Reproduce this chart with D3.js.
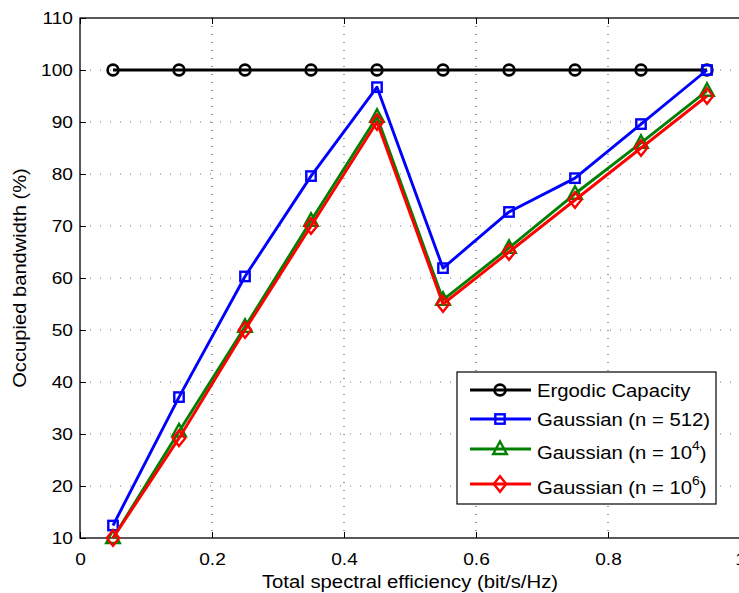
<!DOCTYPE html>
<html>
<head>
<meta charset="utf-8">
<script src="https://cdn.jsdelivr.net/npm/d3@7"></script>
<style>
  body { margin: 0; background: #fff; }
  svg { display: block; font-family: "Liberation Sans", Arial, sans-serif; }
</style>
</head>
<body>
<svg id="chart" width="739" height="593"></svg>
<script>
// Total spectral efficiency (bit/s/Hz)
const efficiency = [0.05, 0.15, 0.25, 0.35, 0.45, 0.55, 0.65, 0.75, 0.85, 0.95];
// Occupied bandwidth (%) per scheme
const ergodic   = [100, 100, 100, 100, 100, 100, 100, 100, 100, 100];
const gauss512  = [12.4, 37.1, 60.3, 79.6, 96.7, 61.9, 72.7, 79.2, 89.6, 100];
const gauss1e4  = [10, 30.5, 50.6, 71, 91, 55.8, 65.8, 76.2, 86, 96];
const gauss1e6  = [10, 29.2, 50, 70, 90, 55, 65, 75, 85, 95];
const xTicks = [0, 0.2, 0.4, 0.6, 0.8, 1];
const yTicks = [10, 20, 30, 40, 50, 60, 70, 80, 90, 100, 110];

const svg = d3.select("#chart");
const x = d3.scaleLinear().domain([0, 1]).range([80, 740]);
const y = d3.scaleLinear().domain([10, 110]).range([538, 18]);

const SX = 1.16; // horizontal glyph widening

// grid
const grid = svg.append("g");
grid.selectAll(".vg").data(xTicks.filter(d => d > 0 && d < 1)).join("line")
  .attr("x1", d => x(d)).attr("x2", d => x(d)).attr("y1", 18).attr("y2", 538)
  .attr("stroke", "#000").attr("stroke-width", 1).attr("stroke-dasharray", "1,7").attr("opacity", 0.8);
grid.selectAll(".hg").data(yTicks.filter(d => d > 10 && d < 110)).join("line")
  .attr("x1", 80).attr("x2", 740).attr("y1", d => y(d)).attr("y2", d => y(d))
  .attr("stroke", "#000").attr("stroke-width", 1).attr("stroke-dasharray", "1,9").attr("opacity", 0.55);

// axes with inward ticks
const xAxis = svg.append("g").attr("transform", "translate(0,538)")
  .call(d3.axisBottom(x).tickValues(xTicks).tickFormat(d3.format("")).tickSizeInner(-6).tickSizeOuter(0).tickPadding(15));
const xTop = svg.append("g").attr("transform", "translate(0,18)")
  .call(d3.axisTop(x).tickValues(xTicks).tickFormat("").tickSizeInner(-6).tickSizeOuter(0));
const yAxis = svg.append("g").attr("transform", "translate(80,0)")
  .call(d3.axisLeft(y).tickValues(yTicks).tickSizeInner(-6).tickSizeOuter(0).tickPadding(6));
[xAxis, xTop, yAxis].forEach(g => {
  g.select(".domain").remove();
  g.selectAll("line").attr("stroke", "#000").attr("stroke-width", 1);
});
xAxis.selectAll("text").attr("font-size", 16.5).attr("fill", "#000")
  .attr("font-family", "Liberation Sans, Arial, sans-serif")
  .attr("transform", `scale(${SX},1)`);
yAxis.selectAll("text").attr("font-size", 16.5).attr("fill", "#000")
  .attr("font-family", "Liberation Sans, Arial, sans-serif")
  .attr("x", -7 / SX).attr("dy", "0.36em")
  .attr("transform", `scale(${SX},1)`);

// box
svg.append("rect").attr("x", 80).attr("y", 18).attr("width", 660).attr("height", 520)
  .attr("fill", "none").attr("stroke", "#000").attr("stroke-width", 1.3);

// series
const series = [
  { name: "Ergodic Capacity", values: ergodic, color: "#000000", marker: "circle" },
  { name: "Gaussian (n = 512)", values: gauss512, color: "#0000ff", marker: "square" },
  { name: "Gaussian (n = 10", sup: "4", values: gauss1e4, color: "#008000", marker: "triangle" },
  { name: "Gaussian (n = 10", sup: "6", values: gauss1e6, color: "#ff0000", marker: "diamond" }
];

function drawMarker(g, type, cx, cy, color) {
  const sw = 2.4;
  if (type === "circle") {
    g.append("circle").attr("cx", cx).attr("cy", cy).attr("r", 5.4)
      .attr("fill", "none").attr("stroke", color).attr("stroke-width", sw + 0.3);
  } else if (type === "square") {
    g.append("rect").attr("x", cx - 4.7).attr("y", cy - 4.7).attr("width", 9.4).attr("height", 9.4)
      .attr("fill", "none").attr("stroke", color).attr("stroke-width", sw);
  } else if (type === "triangle") {
    g.append("path").attr("d", `M${cx},${cy - 7.5}L${cx + 6.8},${cy + 5}L${cx - 6.8},${cy + 5}Z`)
      .attr("fill", "none").attr("stroke", color).attr("stroke-width", sw);
  } else {
    g.append("path").attr("d", `M${cx},${cy - 7.8}L${cx + 6.2},${cy}L${cx},${cy + 7.8}L${cx - 6.2},${cy}Z`)
      .attr("fill", "none").attr("stroke", color).attr("stroke-width", sw);
  }
}

const line = d3.line().x(d => x(d[0])).y(d => y(d[1]));
series.forEach(s => {
  const pts = efficiency.map((e, i) => [e, s.values[i]]);
  const g = svg.append("g");
  g.append("path").datum(pts).attr("d", line)
    .attr("fill", "none").attr("stroke", s.color).attr("stroke-width", 2.9).attr("stroke-linejoin", "round");
  pts.forEach(p => drawMarker(g, s.marker, x(p[0]), y(p[1]), s.color));
});

// axis titles
svg.append("text").attr("transform", `translate(410,588) scale(${SX},1)`)
  .attr("text-anchor", "middle").attr("font-size", 17.5).text("Total spectral efficiency (bit/s/Hz)");
svg.append("text").attr("transform", `translate(26,278) rotate(-90) scale(1.12,1)`)
  .attr("text-anchor", "middle").attr("font-size", 18).text("Occupied bandwidth (%)");

// legend
const lg = svg.append("g");
lg.append("rect").attr("x", 457).attr("y", 372).attr("width", 259).attr("height", 132)
  .attr("fill", "#fff").attr("stroke", "#000").attr("stroke-width", 1.2);
const rowY = [390, 419, 449, 484];
series.forEach((s, i) => {
  const cy = rowY[i];
  lg.append("line").attr("x1", 470).attr("x2", 531).attr("y1", cy).attr("y2", cy)
    .attr("stroke", s.color).attr("stroke-width", 2.9);
  drawMarker(lg, s.marker, 500, cy, s.color);
  const ty = cy + (s.sup ? 10 : 7);
  const t = lg.append("text").attr("transform", `translate(537,${ty}) scale(${SX},1)`)
    .attr("font-size", 17.5).attr("fill", "#000");
  t.append("tspan").text(s.name);
  if (s.sup) {
    t.append("tspan").attr("font-size", 12).attr("dy", -9).text(s.sup);
    t.append("tspan").attr("dy", 9).text(")");
  }
});
</script>
</body>
</html>
